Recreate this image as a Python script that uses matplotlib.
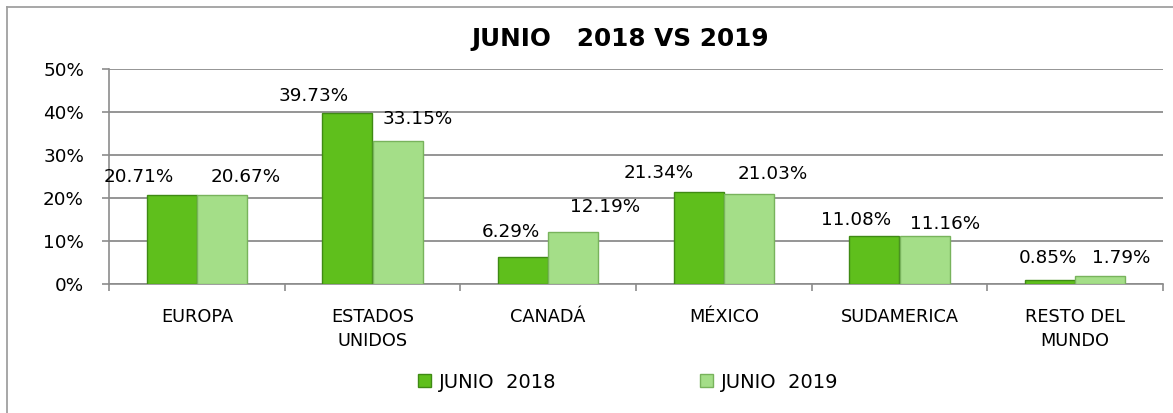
import numpy as np
import matplotlib
matplotlib.use('Agg')
from matplotlib import pyplot as plt
from matplotlib.patches import Patch
from matplotlib.lines import Line2D

categorias = ['EUROPA', 'ESTADOS\nUNIDOS', 'CANADÁ', 'MÉXICO', 'SUDAMERICA', 'RESTO DEL\nMUNDO']
junio_2018 = [20.71, 39.73, 6.29, 21.34, 11.08, 0.85]
junio_2019 = [20.67, 33.15, 12.19, 21.03, 11.16, 1.79]
series = ['JUNIO  2018', 'JUNIO  2019']
y_ticks = [0, 10, 20, 30, 40, 50]

# desplazamiento de las etiquetas (px) respecto al centro superior de cada barra
off_2018 = [(-33, 18), (-34, 17), (-12, 25), (-40, 19), (-18, 16), (-2, 22)]
off_2019 = [(24, 18), (20, 22), (32, 25), (24, 20), (20, 12), (21, 18)]

verde_osc = '#5fbf1c'
verde_cla = '#a4de88'
gris = '#8c8c8c'

plt.rcParams['font.family'] = ['DejaVu Sans']

W, H = 1173, 413
fig = plt.figure(figsize=(W / 100, H / 100), dpi=100)
ax = fig.add_axes([109 / W, 1 - 284 / H, (1163 - 109) / W, (284 - 69) / H])

x = np.arange(len(categorias))
w = 0.2857
ax.bar(x - w / 2, junio_2018, w, color=verde_osc, edgecolor='#3f8a14', linewidth=1.0, zorder=3)
ax.bar(x + w / 2, junio_2019, w, color=verde_cla, edgecolor='#78b35c', linewidth=1.0, zorder=3)

for i in range(len(categorias)):
    ax.annotate(f'{junio_2018[i]:.2f}%', (x[i] - w / 2, junio_2018[i]), xytext=off_2018[i],
                textcoords='offset pixels', ha='center', va='center', fontsize=13.2)
    ax.annotate(f'{junio_2019[i]:.2f}%', (x[i] + w / 2, junio_2019[i]), xytext=off_2019[i],
                textcoords='offset pixels', ha='center', va='center', fontsize=13.2)

ax.set_xlim(-0.5, len(categorias) - 0.5)
ax.set_ylim(0, 50)
ax.set_yticks(y_ticks)
ax.set_yticklabels([f'{t}%' for t in y_ticks], fontsize=13.2)
ax.yaxis.grid(True, color=gris, linewidth=1.3, zorder=0)
ax.set_axisbelow(True)

ax.set_xticks(x)
ax.set_xticklabels(categorias, fontsize=12.8, linespacing=1.45)
ax.set_xticks(np.arange(-0.5, len(categorias)), minor=True)
ax.tick_params(axis='x', which='major', length=0, pad=17)
ax.tick_params(axis='x', which='minor', length=5, color=gris, width=1.2)
ax.tick_params(axis='y', length=5, color=gris, width=1.2, pad=13)

for s in ['top', 'right']:
    ax.spines[s].set_visible(False)
for s in ['left', 'bottom']:
    ax.spines[s].set_color(gris)
    ax.spines[s].set_linewidth(1.2)

fig.text(620 / W, 1 - 39 / H, 'JUNIO   2018 VS 2019', ha='center', va='center',
         fontsize=17.8, fontweight='bold')

handles = [Patch(facecolor=verde_osc, edgecolor='#3f8a14'),
           Patch(facecolor=verde_cla, edgecolor='#78b35c')]
fig.legend(handles, series, loc='center', bbox_to_anchor=(628 / W, 1 - 382 / H), ncol=2,
           frameon=False, fontsize=14, handlelength=0.67, handleheight=0.67,
           handletextpad=0.4, columnspacing=7.4)

# marco exterior del grafico
fig.add_artist(Line2D([7 / W, 1], [1 - 7 / H, 1 - 7 / H], color='#a0a0a0', linewidth=1.3,
                      transform=fig.transFigure))
fig.add_artist(Line2D([7 / W, 7 / W], [0, 1 - 7 / H], color='#a0a0a0', linewidth=1.3,
                      transform=fig.transFigure))

fig.savefig('out.png', dpi=100)
